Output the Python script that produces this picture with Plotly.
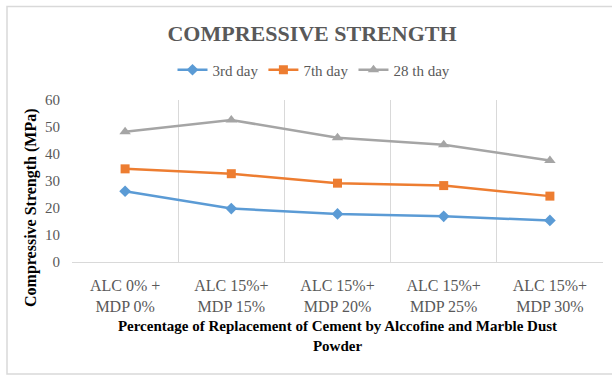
import plotly.graph_objects as go

categories = ["ALC 0% +<br>MDP 0%", "ALC 15%+<br>MDP 15%", "ALC 15%+<br>MDP 20%",
              "ALC 15%+<br>MDP 25%", "ALC 15%+<br>MDP 30%"]
day3 = [26.2, 19.8, 17.8, 16.9, 15.4]
day7 = [34.5, 32.7, 29.2, 28.3, 24.4]
day28 = [48.2, 52.6, 46.0, 43.4, 37.6]
y_ticks = [0, 10, 20, 30, 40, 50, 60]

W, H = 612, 376
ML, MR, MT, MB = 72, 9, 100, 114
pw = W - ML - MR
ph = H - MT - MB
SERIF = "Liberation Serif, Times New Roman, serif"

def px_x(px):
    return (px - ML) / pw

def px_y(py):
    return (H - MB - py) / ph

fig = go.Figure()
fig.add_trace(go.Scatter(x=categories, y=day3, name="3rd day", mode="lines+markers",
                         line=dict(color="#5B9BD5", width=2.5),
                         marker=dict(symbol="diamond", size=9, color="#5B9BD5")))
fig.add_trace(go.Scatter(x=categories, y=day7, name="7th day", mode="lines+markers",
                         line=dict(color="#ED7D31", width=2.5),
                         marker=dict(symbol="square", size=9, color="#ED7D31")))
fig.add_trace(go.Scatter(x=categories, y=day28, name="28 th day", mode="lines+markers",
                         line=dict(color="#A5A5A5", width=2.5),
                         marker=dict(symbol="triangle-up", size=10, color="#A5A5A5")))

fig.update_layout(
    width=W, height=H,
    margin=dict(l=ML, r=MR, t=MT, b=MB, autoexpand=False),
    paper_bgcolor="white", plot_bgcolor="white",
    font=dict(family=SERIF, color="#595959"),
    title=dict(text="<b>COMPRESSIVE STRENGTH</b>", x=312 / W, xanchor="center",
               y=1 - 33 / H, yanchor="middle",
               font=dict(size=22, color="#595959", family=SERIF)),
    legend=dict(orientation="h", x=px_x(314), xanchor="center", y=px_y(70), yanchor="middle",
                font=dict(size=15, color="#595959", family=SERIF), itemwidth=30,
                bgcolor="rgba(0,0,0,0)"),
    showlegend=True,
    xaxis=dict(type="category", tickson="boundaries", range=[-0.5, 4.5],
               showgrid=True, gridcolor="#D9D9D9", automargin=False,
               gridwidth=1, ticks="", showline=True, linecolor="#D9D9D9", mirror=False,
               tickfont=dict(size=16, color="#595959", family=SERIF),
               ticklabelstandoff=9,
               title=dict(text="<b>Percentage of Replacement of Cement by Alccofine and Marble Dust<br>Powder</b>",
                          font=dict(size=15, color="black", family=SERIF), standoff=6),
               zeroline=False),
    yaxis=dict(range=[0, 60], tickvals=y_ticks, showgrid=False, zeroline=False,
               showline=False, ticks="", tickfont=dict(size=15, color="#595959", family=SERIF),
               ticklabelstandoff=11, automargin=False),
)

fig.add_annotation(text="<b>Compressive Strength (MPa)</b>", textangle=-90,
                   xref="paper", yref="paper", x=px_x(31), y=px_y(208),
                   xanchor="center", yanchor="middle", showarrow=False,
                   font=dict(size=16, color="black", family=SERIF))

fig.add_shape(type="rect", xref="paper", yref="paper",
              x0=px_x(7), x1=px_x(640), y0=px_y(374), y1=px_y(6.5),
              line=dict(color="#D9D9D9", width=1.5), fillcolor="rgba(0,0,0,0)", layer="below")

fig.write_html("out.html", config={"displayModeBar": False},
               post_script="document.body.style.margin='0';")
